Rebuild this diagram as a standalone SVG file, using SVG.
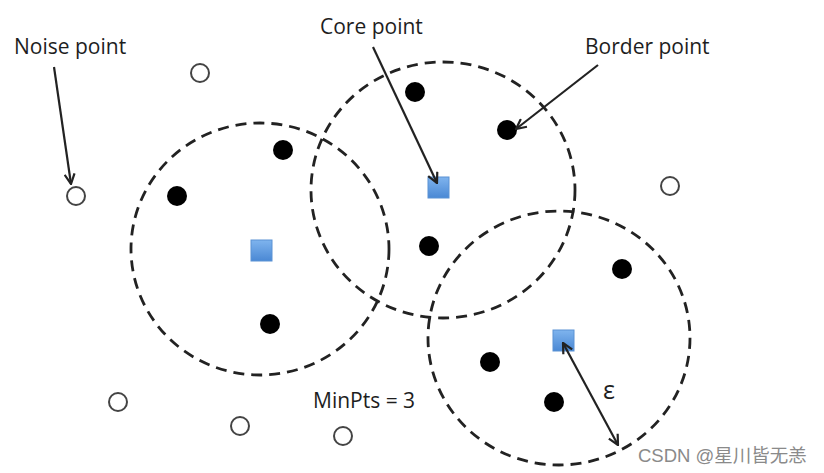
<svg xmlns="http://www.w3.org/2000/svg" width="824" height="473" viewBox="0 0 824 473">
<style>
.ring{fill:none;stroke:#222;stroke-width:2.8;stroke-dasharray:11 7}
.dot{fill:#000}
.open{fill:#fff;stroke:#444;stroke-width:2}
.core{fill:url(#blue);stroke:#5b92d4;stroke-width:1}
.arr{stroke:#222;stroke-width:2.2;fill:none}
.lbl{font-family:"Open Sans","Liberation Sans",sans-serif;font-size:21px;fill:#1e1e1e}
.eps{font-family:"Open Sans","Liberation Sans",sans-serif;font-size:25px;fill:#1e1e1e}
.wm{font-family:"Liberation Sans","Noto Sans CJK SC",sans-serif;font-size:18.5px;fill:#8a8a8a}
</style>
<defs>
<linearGradient id="blue" x1="0" y1="0" x2="0" y2="1">
<stop offset="0" stop-color="#7fb4ee"/>
<stop offset="1" stop-color="#4a88d4"/>
</linearGradient>
<marker id="ah" viewBox="0 0 12 12" refX="11" refY="6" markerWidth="12" markerHeight="12" markerUnits="userSpaceOnUse" orient="auto-start-reverse">
<path d="M1,1 L11,6 L1,11" fill="none" stroke="#222" stroke-width="2.2"/>
</marker>
</defs>
<rect width="824" height="473" fill="#fff"/>
<g id="rings">
<ellipse class="ring" cx="260" cy="249" rx="129" ry="126"/>
<ellipse class="ring" cx="443" cy="190" rx="132" ry="128"/>
<ellipse class="ring" cx="559" cy="338" rx="131" ry="127"/>
</g>
<g id="core-points">
<rect id="core1" class="core" x="251" y="240" width="21" height="21"/>
<rect id="core2" class="core" x="428" y="177" width="21" height="21"/>
<rect id="core3" class="core" x="553" y="330" width="21" height="21"/>
</g>
<g id="border-points">
<circle id="b1" class="dot" cx="283" cy="150" r="10"/>
<circle id="b2" class="dot" cx="177" cy="196" r="10"/>
<circle id="b3" class="dot" cx="270" cy="324" r="10"/>
<circle id="b4" class="dot" cx="415" cy="92" r="10"/>
<circle id="b5" class="dot" cx="507" cy="130" r="10"/>
<circle id="b6" class="dot" cx="429" cy="246" r="10"/>
<circle id="b7" class="dot" cx="622" cy="269" r="10"/>
<circle id="b8" class="dot" cx="490" cy="362" r="10"/>
<circle id="b9" class="dot" cx="554" cy="402" r="10"/>
</g>
<g id="noise-points">
<circle id="n1" class="open" cx="200" cy="73" r="9"/>
<circle id="n2" class="open" cx="76" cy="196" r="9"/>
<circle id="n3" class="open" cx="670" cy="186" r="9"/>
<circle id="n4" class="open" cx="118" cy="402" r="9"/>
<circle id="n5" class="open" cx="240" cy="426" r="9"/>
<circle id="n6" class="open" cx="343" cy="436" r="9"/>
</g>
<g id="connectors">
<line class="arr" x1="54" y1="67" x2="71" y2="184" marker-end="url(#ah)"/>
<line class="arr" x1="373" y1="47" x2="437" y2="183" marker-end="url(#ah)"/>
<line class="arr" x1="598" y1="65" x2="516" y2="129" marker-end="url(#ah)"/>
<line class="arr" x1="563" y1="343" x2="618" y2="445" marker-start="url(#ah)" marker-end="url(#ah)"/>
</g>
<g id="labels">
<text class="lbl" x="14" y="54">Noise point</text>
<text class="lbl" x="320" y="34">Core point</text>
<text class="lbl" x="585" y="54">Border point</text>
<text class="lbl" x="313" y="408">MinPts = 3</text>
<text class="eps" x="603" y="399">ε</text>
<text class="wm" x="638" y="462">CSDN @星川皆无恙</text>
</g>
</svg>
